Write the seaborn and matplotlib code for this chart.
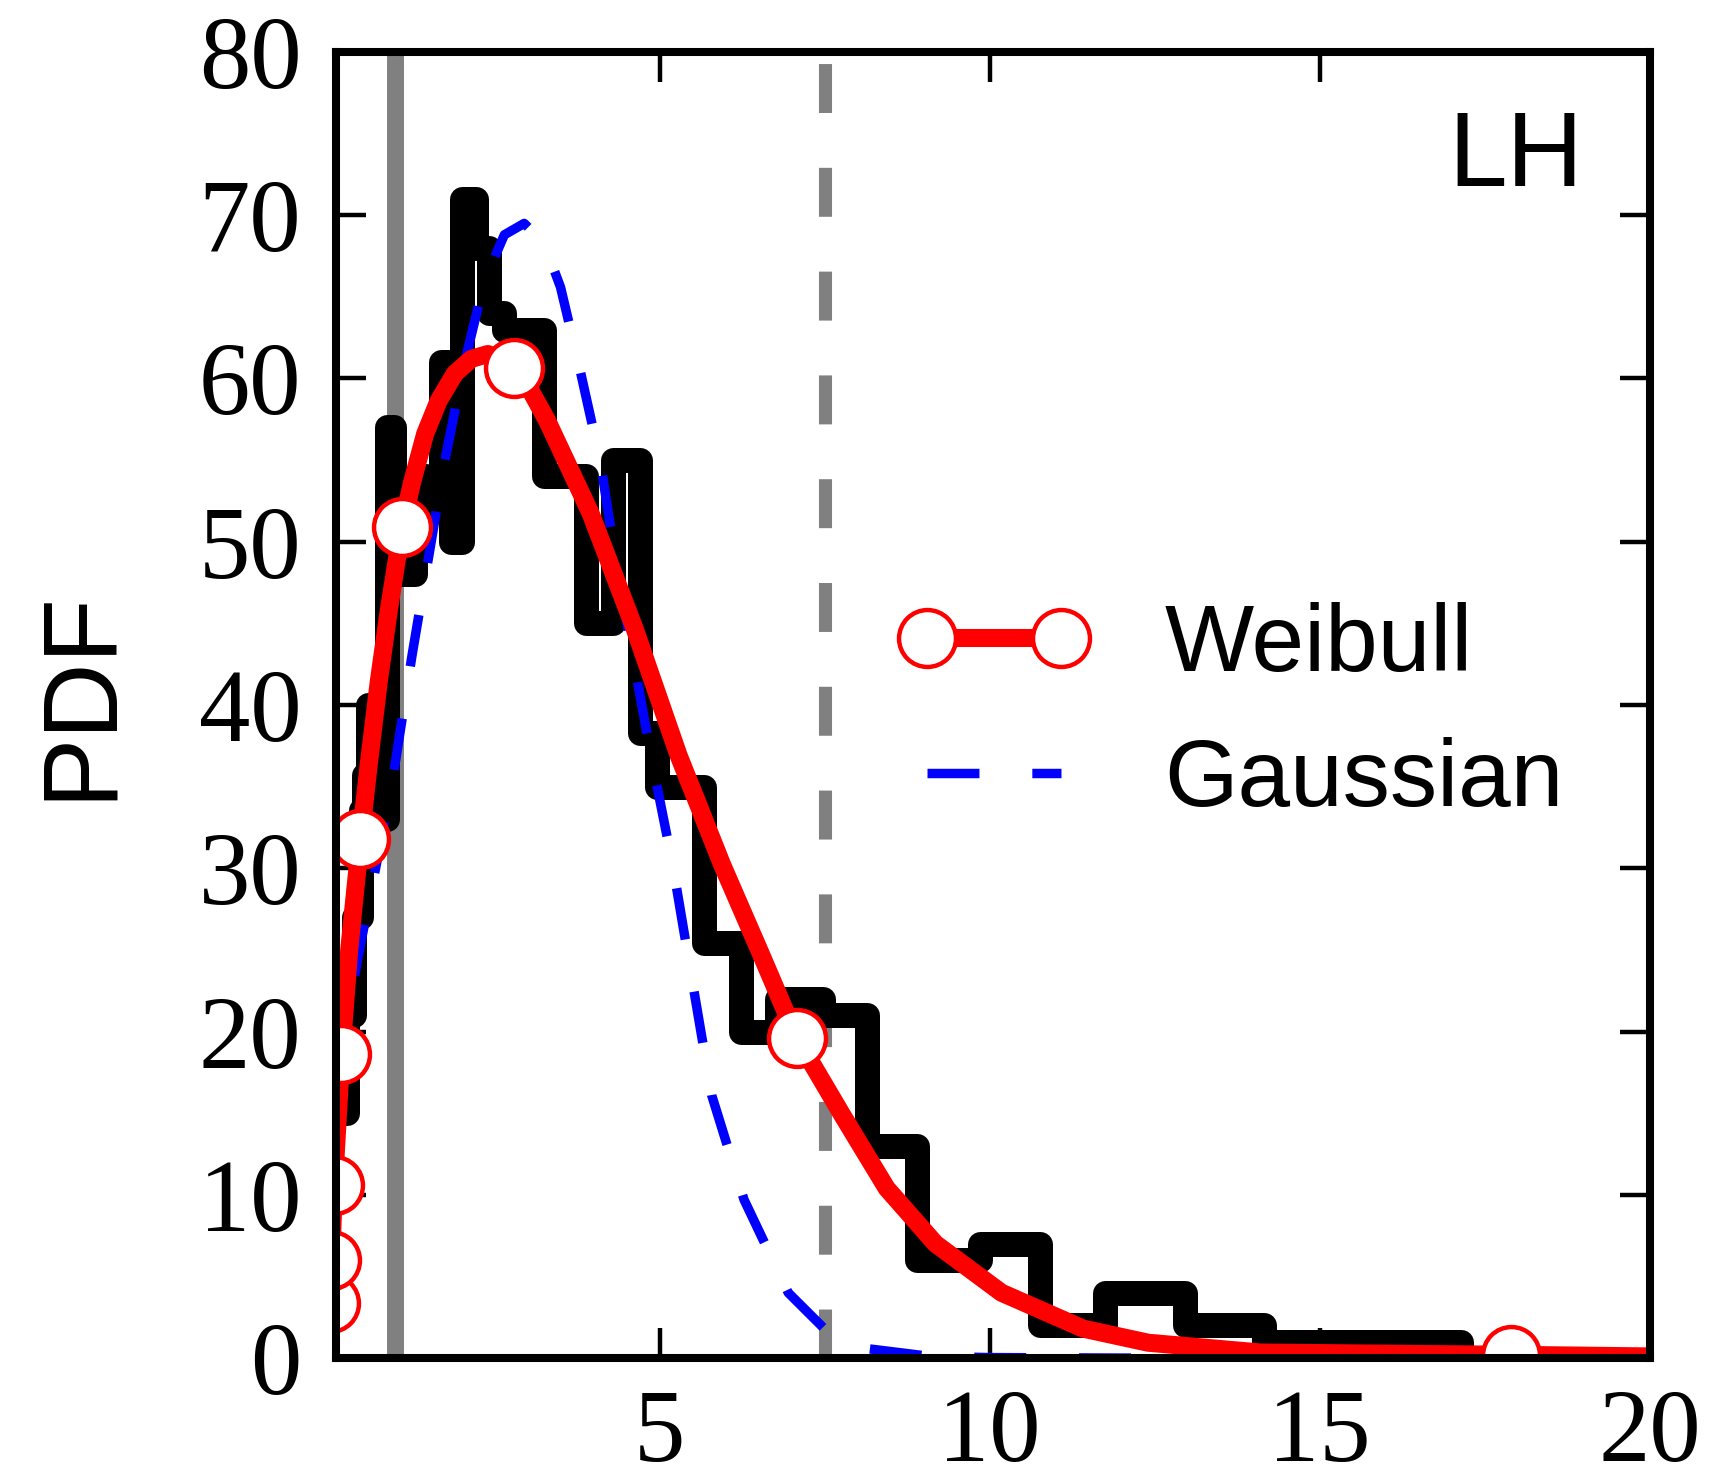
import numpy as np
import pandas as pd
import matplotlib
matplotlib.use("Agg")
import matplotlib.pyplot as plt
from matplotlib.lines import Line2D
import seaborn as sns

# Histogram of the sample: variable-width bin edges and PDF value of each bin
hist_edges = [0.0, 0.27, 0.37, 0.48, 0.53, 0.58, 0.74, 0.87, 0.98, 1.30, 1.47,
              1.69, 1.84, 2.01, 2.22, 2.42, 2.65, 3.25, 3.88, 4.29, 4.71, 4.96,
              5.67, 6.23, 6.78, 7.48, 8.14, 8.90, 9.85, 10.76, 11.75, 12.96,
              14.16, 17.14, 17.6]
hist_pdf = [15, 21, 27, 33.6, 35.7, 40, 33, 57, 48, 54, 52, 61, 50, 71, 68, 64,
            63, 54, 45, 55, 38.3, 35, 25.4, 20, 22, 21, 13, 6, 7, 2, 4, 2, 1, 0]

# Weibull fit, sampled on a log-spaced grid
weib_x = [0.0105, 0.027, 0.07, 0.18, 0.30, 0.47, 0.60, 0.75, 0.90, 1.10, 1.25,
          1.45, 1.65, 1.90, 2.15, 2.40, 2.60, 2.79, 3.00, 3.30, 3.96, 4.63,
          5.29, 5.95, 6.53, 7.08, 7.78, 8.44, 9.18, 10.18, 11.42, 12.4, 14.1,
          17.9, 20.0]
weib_pdf = [3.4, 6.0, 10.6, 18.6, 25.0, 31.8, 36.5, 41.5, 45.8, 50.9, 53.6,
            56.6, 58.6, 60.3, 61.2, 61.5, 61.2, 60.65, 59.6, 57.4, 51.7, 44.6,
            36.9, 30.2, 24.8, 19.6, 14.8, 10.4, 7.0, 4.0, 1.8, 0.94, 0.34,
            0.2, 0.1]
weib_marker_idx = [0, 1, 2, 3, 5, 9, 17, 25, 33]

# Gaussian fit
gauss_x = [0.10, 0.19, 0.42, 0.70, 0.98, 1.25, 1.50, 1.75, 2.05, 2.35, 2.65,
           2.95, 3.25, 3.50, 3.77, 4.10, 4.35, 4.87, 5.20, 5.45, 5.79, 6.28,
           6.95, 7.62, 8.10, 9.10, 10.0, 12.0, 20.0]
gauss_pdf = [17.1, 18.6, 24.3, 30.0, 36.0, 43.0, 49.0, 55.0, 61.0, 66.0, 68.8,
             69.5, 68.3, 65.6, 61.0, 55.0, 48.5, 36.9, 30.2, 24.2, 16.1, 9.7,
             4.0, 1.3, 0.6, 0.1, 0.03, 0.0, 0.0]

# Reference positions marked by vertical lines
solid_ref_x = 1.0
dashed_ref_x = 7.5

x_ticks = [5, 10, 15, 20]
y_ticks = [0, 10, 20, 30, 40, 50, 60, 70, 80]
series_labels = ["Weibull", "Gaussian"]
panel_label = "LH"

sns.set_theme(style="ticks")
plt.rcParams["font.family"] = ["Liberation Serif", "DejaVu Serif"]
plt.rcParams["axes.linewidth"] = 2.9
plt.rcParams["axes.edgecolor"] = "black"
plt.rcParams["text.color"] = "black"
plt.rcParams["axes.labelcolor"] = "black"
plt.rcParams["xtick.color"] = "black"
plt.rcParams["ytick.color"] = "black"

SANS = ["Liberation Sans", "DejaVu Sans"]

fig = plt.figure(figsize=(8.58, 7.38), dpi=200)
ax = fig.add_axes([0.1958, 0.0799, 0.9615 - 0.1958, 0.9648 - 0.0799])

ax.axvline(solid_ref_x, color="#808080", lw=6.1, zorder=1)
ax.axvline(dashed_ref_x, color="#808080", lw=4.7, ls=(0, (3.75, 4.2)), zorder=1)

centers = [0.5 * (a + b) for a, b in zip(hist_edges[:-1], hist_edges[1:])]
hist_df = pd.DataFrame({"x": centers, "pdf": hist_pdf})
sns.histplot(data=hist_df, x="x", weights="pdf", bins=list(hist_edges),
             element="step", fill=False, color="black", linewidth=9, ax=ax,
             solid_joinstyle="round", solid_capstyle="round", zorder=2)

gauss_df = pd.DataFrame({"x": gauss_x, "pdf": gauss_pdf})
sns.lineplot(data=gauss_df, x="x", y="pdf", color="blue", lw=3.4,
             linestyle=(0, (5.5, 5.6)), errorbar=None, ax=ax, zorder=2.1)

weib_df = pd.DataFrame({"x": weib_x, "pdf": weib_pdf})
sns.lineplot(data=weib_df, x="x", y="pdf", color="red", lw=6.5,
             errorbar=None, ax=ax, zorder=2.3)
sns.scatterplot(data=weib_df.iloc[weib_marker_idx], x="x", y="pdf", s=420,
                marker="o", facecolor="white", edgecolor="red", linewidth=1.6,
                ax=ax, zorder=2.4, legend=False)

ax.set_xlim(0.1, 20)
ax.set_ylim(0, 80)
ax.set_xticks(x_ticks)
ax.set_yticks(y_ticks)
ax.tick_params(direction="in", length=10.8, width=1.6, labelsize=37,
               top=True, right=True, colors="black")
ax.tick_params(axis="x", pad=11)
ax.tick_params(axis="y", pad=12.5)
ax.set_xlabel("")
ax.set_ylabel("PDF", family=SANS, fontsize=38)
ax.yaxis.set_label_coords(-0.156, 0.508)

ax.text(0.949, 0.897, panel_label, transform=ax.transAxes, ha="right",
        va="baseline", family=SANS, fontsize=38)

handles = [
    Line2D([], [], color="red", lw=6.5, marker="o", ms=20.5, mfc="white",
           mec="red", mew=1.6),
    Line2D([], [], color="blue", lw=3.4, linestyle=(0, (5.5, 5.6))),
]
ax.legend(handles, series_labels, loc="center left",
          bbox_to_anchor=(0.4285, 0.493), frameon=False, borderpad=0,
          borderaxespad=0, handlelength=2.01, handletextpad=0.8,
          labelspacing=0.49, numpoints=2, prop={"family": SANS, "size": 34})

fig.savefig("out.png", dpi=200)
